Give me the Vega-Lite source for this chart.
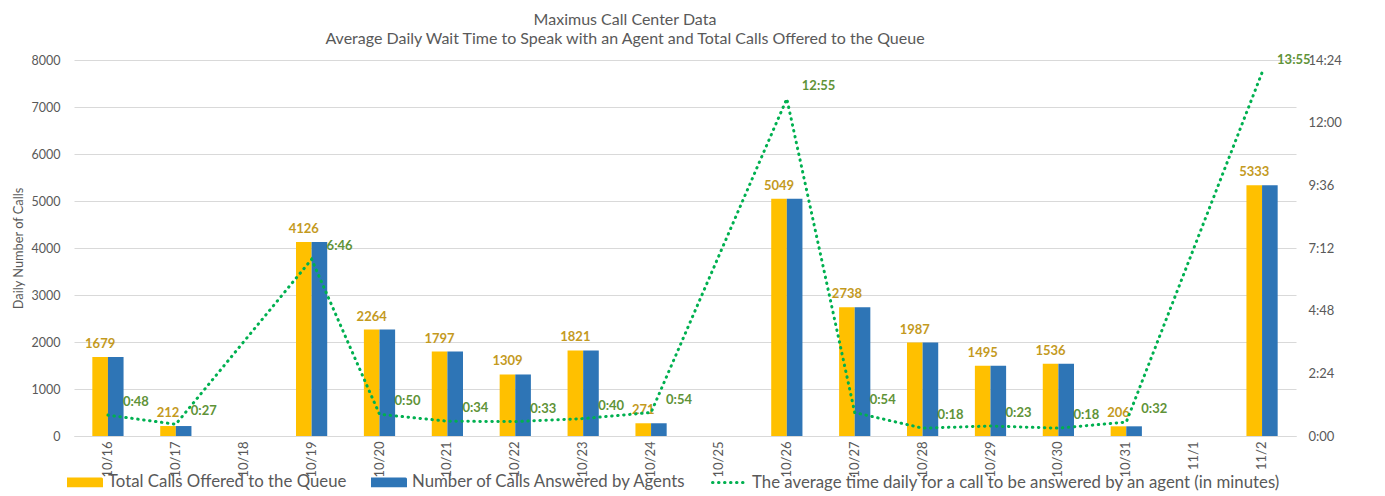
{
  "$schema": "https://vega.github.io/schema/vega-lite/v6.json",
  "width": 1222,
  "height": 376,
  "autosize": {"type": "none"},
  "padding": {"left": 74, "top": 60, "right": 89, "bottom": 60},
  "background": "white",
  "config": {
    "view": {"stroke": null},
    "font": "Lato",
    "axis": {"labelFont": "Lato", "titleFont": "Lato", "labelColor": "#595959", "titleColor": "#595959"}
  },
  "title": {
    "text": "Maximus Call Center Data",
    "subtitle": "Average Daily Wait Time to Speak with an Agent and Total Calls Offered to the Queue",
    "anchor": "middle",
    "dx": -60,
    "offset": 7,
    "font": "Lato",
    "subtitleFont": "Lato",
    "fontSize": 16,
    "subtitleFontSize": 16,
    "fontWeight": "normal",
    "color": "#595959",
    "subtitleColor": "#595959",
    "subtitlePadding": 3
  },
  "datasets": {
    "days": [
      {"date": "10/16", "offered": 1679, "answered": 1679, "wait": 0.8, "waitLabel": "0:48"},
      {"date": "10/17", "offered": 212, "answered": 212, "wait": 0.45, "waitLabel": "0:27"},
      {"date": "10/19", "offered": 4126, "answered": 4126, "wait": 6.767, "waitLabel": "6:46"},
      {"date": "10/20", "offered": 2264, "answered": 2264, "wait": 0.833, "waitLabel": "0:50"},
      {"date": "10/21", "offered": 1797, "answered": 1797, "wait": 0.567, "waitLabel": "0:34"},
      {"date": "10/22", "offered": 1309, "answered": 1309, "wait": 0.55, "waitLabel": "0:33"},
      {"date": "10/23", "offered": 1821, "answered": 1821, "wait": 0.667, "waitLabel": "0:40"},
      {"date": "10/24", "offered": 271, "answered": 271, "wait": 0.9, "waitLabel": "0:54"},
      {"date": "10/26", "offered": 5049, "answered": 5049, "wait": 12.917, "waitLabel": "12:55"},
      {"date": "10/27", "offered": 2738, "answered": 2738, "wait": 0.9, "waitLabel": "0:54"},
      {"date": "10/28", "offered": 1987, "answered": 1987, "wait": 0.3, "waitLabel": "0:18"},
      {"date": "10/29", "offered": 1495, "answered": 1495, "wait": 0.383, "waitLabel": "0:23"},
      {"date": "10/30", "offered": 1536, "answered": 1536, "wait": 0.3, "waitLabel": "0:18"},
      {"date": "10/31", "offered": 206, "answered": 206, "wait": 0.533, "waitLabel": "0:32"},
      {"date": "11/2", "offered": 5333, "answered": 5333, "wait": 13.917, "waitLabel": "13:55"}
    ]
  },
  "data": {"name": "days"},
  "layer": [
    {
      "transform": [{"fold": ["offered", "answered"], "as": ["series", "calls"]}],
      "encoding": {
        "x": {
          "field": "date", "type": "nominal", "sort": null,
          "scale": {"domain": ["10/16","10/17","10/18","10/19","10/20","10/21","10/22","10/23","10/24","10/25","10/26","10/27","10/28","10/29","10/30","10/31","11/1","11/2"], "paddingInner": 0.54, "paddingOuter": 0.27},
          "axis": {"title": null, "labelAngle": -90, "labelFontSize": 13, "labelPadding": 5, "ticks": false, "domain": true, "domainColor": "#D9D9D9", "grid": false}
        },
        "y": {
          "field": "calls", "type": "quantitative",
          "scale": {"domain": [0, 8000], "nice": false},
          "axis": {"title": "Daily Number of Calls", "titleFontSize": 12.8, "titleFontWeight": "normal", "titlePadding": 6, "values": [0,1000,2000,3000,4000,5000,6000,7000,8000], "format": "d", "labelFontSize": 12.5, "labelPadding": 14, "ticks": false, "domain": false, "gridColor": "#D9D9D9", "grid": true}
        }
      },
      "layer": [
        {
          "mark": {"type": "bar"},
          "encoding": {
            "xOffset": {"field": "series", "type": "nominal", "sort": ["offered", "answered"], "scale": {"domain": ["offered", "answered"], "paddingInner": 0, "paddingOuter": 0}},
            "color": {
              "field": "series", "type": "nominal",
              "scale": {"domain": ["offered", "answered", "wait"], "range": ["#FFC000", "#2E75B6", "#00B050"]},
              "legend": {
                "orient": "none", "legendX": -7, "legendY": 404, "direction": "horizontal", "title": null,
                "labelExpr": "datum.value == 'offered' ? 'Total Calls Offered to the Queue' : datum.value == 'answered' ? 'Number of Calls Answered by Agents' : 'The average time daily for a call to be answered by an agent (in minutes)'",
                "labelFont": "Lato", "labelFontSize": 16.8, "labelColor": "#595959", "labelLimit": 800,
                "symbolType": "M-1,-0.2H1V0.2H-1Z", "symbolSize": 1089, "labelOffset": 5, "columnPadding": 19,
                "encode": {"symbols": {"update": {
                  "shape": {"signal": "datum.value == 'wait' ? 'M-1,0H1' : 'M-1,-0.2H1V0.2H-1Z'"},
                  "fill": {"signal": "datum.value == 'offered' ? '#FFC000' : datum.value == 'answered' ? '#2E75B6' : 'transparent'"},
                  "stroke": {"signal": "datum.value == 'wait' ? '#00B050' : 'transparent'"},
                  "strokeWidth": {"value": 3},
                  "strokeDash": {"signal": "datum.value == 'wait' ? [0.5, 5.5] : [1, 0]"},
                  "strokeCap": {"value": "round"},
                  "opacity": {"value": 1}
                }}}
              }
            }
          }
        },
        {
          "transform": [{"filter": "datum.series == 'offered'"}],
          "mark": {"type": "text", "baseline": "bottom", "dy": -6, "fontSize": 13, "fontWeight": "bold", "color": "#C49A1E"},
          "encoding": {
            "xOffset": {"field": "series", "type": "nominal", "sort": ["offered", "answered"]},
            "text": {"field": "calls", "type": "quantitative"}
          }
        }
      ]
    },
    {
      "encoding": {
        "x": {
          "field": "date", "type": "nominal", "sort": null,
          "scale": {"domain": ["10/16","10/17","10/18","10/19","10/20","10/21","10/22","10/23","10/24","10/25","10/26","10/27","10/28","10/29","10/30","10/31","11/1","11/2"], "paddingInner": 0.54, "paddingOuter": 0.27},
          "axis": {"title": null, "labelAngle": -90, "labelFontSize": 13, "labelPadding": 5, "ticks": false, "domain": true, "domainColor": "#D9D9D9", "grid": false}
        },
        "y": {
          "field": "wait", "type": "quantitative",
          "scale": {"domain": [0, 14.4], "nice": false},
          "axis": {"orient": "right", "title": null, "values": [0, 2.4, 4.8, 7.2, 9.6, 12, 14.4], "labelExpr": "floor(datum.value) + ':' + (round((datum.value - floor(datum.value)) * 60) < 10 ? '0' : '') + round((datum.value - floor(datum.value)) * 60)", "labelFontSize": 13, "labelPadding": 12, "ticks": false, "domain": false, "grid": false}
        }
      },
      "layer": [
        {
          "mark": {"type": "line", "strokeWidth": 3, "strokeDash": [0.5, 5.5], "strokeCap": "round"},
          "encoding": {"color": {"datum": "wait"}}
        },
        {
          "mark": {"type": "text", "align": "left", "dx": 15, "dy": -13, "fontSize": 13, "fontWeight": "bold", "color": "#5F9338"},
          "encoding": {"text": {"field": "waitLabel", "type": "nominal"}}
        }
      ]
    }
  ],
  "resolve": {"scale": {"y": "independent"}}
}
